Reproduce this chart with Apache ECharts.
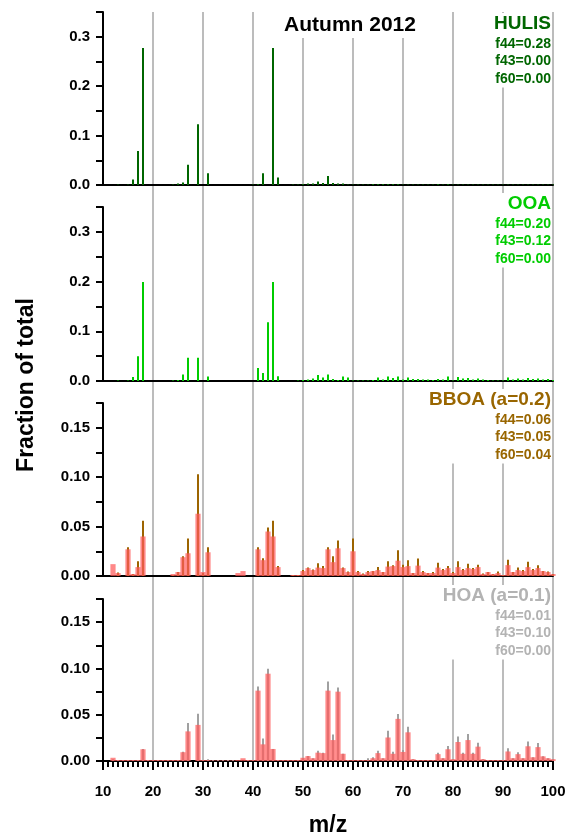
<!DOCTYPE html>
<html>
<head>
<meta charset="utf-8">
<script src="https://cdn.jsdelivr.net/npm/echarts@6/dist/echarts.min.js"></script>
<style>
  html, body { margin: 0; padding: 0; background: #fff; }
  #chart { width: 570px; height: 838px; }
</style>
</head>
<body>
<div id="chart"></div>
<script>
// m/z 12 .. 100
const mz = [];
for (let m = 12; m <= 100; m++) mz.push(m);

const xTicks = [10, 20, 30, 40, 50, 60, 70, 80, 90, 100];

//            12     13     14     15     16     17     18     19     20     21
const hulis = [0,     0.001, 0,     0.001, 0.011, 0.069, 0.277, 0,     0,     0,
//            22     23     24     25     26     27     28     29     30     31
               0,     0,     0.001, 0.003, 0.005, 0.041, 0,     0.123, 0,     0.024,
//            32-41
               0,     0,     0,     0,     0,     0,     0,     0,     0.001, 0.002,
//            42-51
               0.024, 0,     0.277, 0.015, 0,     0,     0.001, 0.001, 0.002, 0.003,
//            52-61
               0.003, 0.007, 0.004, 0.018, 0.004, 0.003, 0.003, 0.001, 0.001, 0.001,
//            62-71
               0.001, 0.001, 0.002, 0.002, 0.002, 0.002, 0.002, 0.002, 0.001, 0.001,
//            72-81
               0.001, 0.001, 0.001, 0.001, 0.001, 0.002, 0.001, 0.002, 0.001, 0.001,
//            82-91
               0.001, 0.001, 0.001, 0.001, 0.001, 0.001, 0.001, 0.001, 0.001, 0.001,
//            92-100
               0.001, 0.001, 0.001, 0.001, 0.001, 0.001, 0.001, 0.001, 0.001];

const ooa = [0,     0.001, 0,     0.001, 0.008, 0.050, 0.199, 0,     0,     0,
             0,     0,     0.001, 0.002, 0.013, 0.047, 0,     0.047, 0,     0.009,
             0,     0,     0,     0,     0,     0,     0,     0,     0,     0.026,
             0.016, 0.118, 0.199, 0.0095, 0,    0,     0,     0.001, 0.002, 0.003,
             0.005, 0.012, 0.007, 0.013, 0.004, 0.002, 0.009, 0.007, 0.001, 0.001,
             0.001, 0.001, 0.002, 0.007, 0.003, 0.009, 0.006, 0.009, 0.003, 0.007,
             0.004, 0.004, 0.003, 0.003, 0.002, 0.004, 0.003, 0.009, 0.001, 0.008,
             0.005, 0.006, 0.003, 0.005, 0.003, 0.002, 0.001, 0.001, 0.001, 0.007,
             0.003, 0.005, 0.003, 0.006, 0.004, 0.005, 0.003, 0.004, 0.002];

// BBOA reference profile (brown) and scaled measured spectrum (pink)
const bboa = [0,     0.0035, 0,    0.029, 0.002, 0.015, 0.056, 0,     0,     0,
              0,     0,     0.001, 0.004, 0.020, 0.038, 0,     0.103, 0.003, 0.029,
              0,     0,     0,     0,     0,     0,     0,     0,     0,     0.029,
              0.018, 0.049, 0.056, 0.010, 0,     0,     0.001, 0.001, 0.006, 0.0085,
              0.0065, 0.013, 0.010, 0.029, 0.020, 0.036, 0.0085, 0.0045, 0.038, 0.005,
              0.0025, 0.005, 0.005, 0.009, 0.004, 0.015, 0.011, 0.026, 0.0115, 0.016,
              0.003, 0.0176, 0.005, 0.003, 0.004, 0.0135, 0.007, 0.010, 0.004, 0.015,
              0.007, 0.0125, 0.008, 0.0115, 0.0025, 0.004, 0.002, 0.0045, 0.001, 0.0165,
              0.004, 0.0085, 0.006, 0.0145, 0.007, 0.011, 0.005, 0.0045, 0.002];

const bboaMeas = [0.012, 0.003, 0,    0.027, 0.002, 0.009, 0.040, 0,     0,     0,
                  0,     0,     0.002, 0.004, 0.019, 0.023, 0,     0.063, 0.004, 0.024,
                  0,     0,     0,     0,     0,     0.003, 0.005, 0,     0,     0.027,
                  0.016, 0.045, 0.040, 0.009, 0,     0,     0.001, 0.001, 0.005, 0.008,
                  0.006, 0.0085, 0.008, 0.027, 0.014, 0.028, 0.008, 0.004, 0.025, 0.004,
                  0.002, 0.004, 0.005, 0.006, 0.004, 0.0095, 0.010, 0.0155, 0.009, 0.010,
                  0.003, 0.0105, 0.004, 0.003, 0.003, 0.0085, 0.006, 0.008, 0.003, 0.009,
                  0.006, 0.008, 0.007, 0.009, 0.002, 0.004, 0.002, 0.003, 0.001, 0.011,
                  0.004, 0.006, 0.005, 0.009, 0.006, 0.008, 0.005, 0.004, 0.002];

// HOA reference profile (grey) and scaled measured spectrum (pink)
const hoa = [0.002, 0.001, 0.001, 0.001, 0.001, 0.001, 0.013, 0.001, 0.001, 0.001,
             0.001, 0.001, 0.001, 0.001, 0.010, 0.041, 0,     0.051, 0.001, 0.002,
             0.001, 0.001, 0.001, 0.001, 0.001, 0,     0,     0.001, 0.001, 0.0805,
             0.0244, 0.0996, 0.013, 0.001, 0.001, 0.001, 0.001, 0.001, 0.003, 0.0055,
             0.003, 0.011, 0.009, 0.086, 0.0286, 0.0795, 0.0078, 0.001, 0.001, 0.001,
             0.001, 0.003, 0.004, 0.011, 0.003, 0.0328, 0.010, 0.0508, 0.012, 0.037,
             0.002, 0.001, 0.001, 0.001, 0.001, 0.009, 0.003, 0.0162, 0.002, 0.0265,
             0.009, 0.0293, 0.009, 0.0198, 0.002, 0.001, 0.001, 0.001, 0.001, 0.0138,
             0.003, 0.0095, 0.003, 0.021, 0.004, 0.0195, 0.005, 0.003, 0.002];

const hoaMeas = [0.0035, 0.001, 0.001, 0.001, 0.001, 0.001, 0.0127, 0.001, 0.001, 0.001,
                 0.001, 0.001, 0.001, 0.001, 0.0095, 0.032, 0,     0.039, 0.001, 0.001,
                 0.0005, 0.0005, 0.0005, 0.0005, 0.0005, 0.001, 0.003, 0.001, 0.001, 0.076,
                 0.018, 0.0943, 0.013, 0.001, 0.001, 0.001, 0.001, 0.001, 0.0035, 0.0053,
                 0.003, 0.009, 0.0085, 0.076, 0.0226, 0.0749, 0.0078, 0.001, 0.001, 0.001,
                 0.001, 0.001, 0.003, 0.0085, 0.003, 0.0254, 0.0078, 0.0455, 0.0098, 0.031,
                 0.002, 0.001, 0.001, 0.001, 0.001, 0.0074, 0.003, 0.0127, 0.002, 0.0205,
                 0.0078, 0.0226, 0.0078, 0.0155, 0.002, 0.001, 0.001, 0.001, 0.001, 0.0103,
                 0.003, 0.0074, 0.003, 0.0159, 0.004, 0.015, 0.005, 0.003, 0.002];

const FONT = '"Liberation Sans", Arial, sans-serif';

const chart = echarts.init(document.getElementById('chart'));

const pairs = (vals) => mz.map((m, i) => [m, vals[i]]);

const grids = [
  { left: 103, width: 450, top: 12, height: 173 },
  { left: 103, width: 450, top: 207, height: 174 },
  { left: 103, width: 450, top: 403, height: 173 },
  { left: 103, width: 450, top: 599, height: 165.5 },
  { left: 103, width: 450, top: 12, height: 752.5 }
];

function panelX(gridIndex, opts) {
  return Object.assign({
    type: 'value',
    gridIndex: gridIndex,
    min: 10,
    max: 100,
    interval: 10,
    axisLine: { show: true, onZero: true, lineStyle: { color: '#000', width: 2 } },
    axisTick: { show: false },
    axisLabel: { show: false },
    splitLine: { show: false }
  }, opts || {});
}

// ticks every `interval`, labels on every second tick
function panelY(gridIndex, max, interval, digits) {
  return {
    type: 'value',
    gridIndex: gridIndex,
    min: 0,
    max: max,
    interval: interval,
    axisLine: { show: true, lineStyle: { color: '#000', width: 2 } },
    axisTick: { show: true, length: 7, lineStyle: { color: '#000', width: 2 } },
    axisLabel: {
      margin: 13,
      color: '#000',
      fontFamily: FONT,
      fontWeight: 'bold',
      fontSize: 15,
      formatter: (v) => (Math.round(v / interval) % 2 === 0 ? v.toFixed(digits) : '')
    },
    splitLine: { show: false }
  };
}

const legendText = (x, y, head, lines, color) => ({
  type: 'text',
  z: 50,
  style: {
    x: x,
    y: y,
    align: 'right',
    verticalAlign: 'top',
    text: '{h|' + head + '}\n' + lines.map((l) => '{f|' + l + '}').join('\n'),
    backgroundColor: '#fff',
    rich: {
      h: { fontFamily: FONT, fontWeight: 'bold', fontSize: 19, lineHeight: 22, fill: color, align: 'right' },
      f: { fontFamily: FONT, fontWeight: 'bold', fontSize: 14, lineHeight: 17.5, fill: color, align: 'right' }
    }
  }
});

const pink = 'rgba(255, 90, 90, 0.72)';

chart.setOption({
  animation: false,
  backgroundColor: '#fff',
  grid: grids,
  xAxis: [
    panelX(0),
    panelX(1),
    panelX(2),
    panelX(2, { show: false }),
    panelX(3, {
      axisTick: { show: true, length: 9, lineStyle: { color: '#000', width: 2 } },
      minorTick: { show: true, splitNumber: 10, length: 6, lineStyle: { color: '#000', width: 2 } },
      axisLabel: {
        show: true,
        margin: 23,
        color: '#000',
        fontFamily: FONT,
        fontWeight: 'bold',
        fontSize: 15,
        formatter: (v) => (xTicks.includes(v) ? String(v) : '')
      },
      name: 'm/z',
      nameLocation: 'middle',
      nameGap: 53,
      nameTextStyle: { color: '#000', fontFamily: FONT, fontWeight: 'bold', fontSize: 23 }
    }),
    panelX(3, { show: false }),
    {
      type: 'value',
      gridIndex: 4,
      min: 10,
      max: 100,
      interval: 10,
      axisLine: { show: false },
      axisTick: { show: false },
      axisLabel: { show: false },
      splitLine: { show: true, showMinLine: false, lineStyle: { color: '#a6a6a6', width: 1.5 } }
    }
  ],
  yAxis: [
    panelY(0, 0.35, 0.05, 1),
    panelY(1, 0.35, 0.05, 1),
    panelY(2, 0.175, 0.025, 2),
    panelY(3, 0.175, 0.025, 2),
    { type: 'value', gridIndex: 4, min: 0, max: 1, show: false }
  ],
  series: [
    { type: 'bar', name: 'HULIS', xAxisIndex: 0, yAxisIndex: 0, barWidth: 2,
      itemStyle: { color: '#006600' }, data: pairs(hulis) },
    { type: 'bar', name: 'OOA', xAxisIndex: 1, yAxisIndex: 1, barWidth: 2,
      itemStyle: { color: '#00cc00' }, data: pairs(ooa) },
    { type: 'bar', name: 'BBOA', xAxisIndex: 2, yAxisIndex: 2, barWidth: 2,
      itemStyle: { color: '#9c6400' }, data: pairs(bboa) },
    { type: 'bar', name: 'BBOA meas', xAxisIndex: 3, yAxisIndex: 2, barWidth: 5.2,
      itemStyle: { color: pink }, data: pairs(bboaMeas) },
    { type: 'bar', name: 'HOA', xAxisIndex: 4, yAxisIndex: 3, barWidth: 2,
      itemStyle: { color: '#a0a0a0' }, data: pairs(hoa) },
    { type: 'bar', name: 'HOA meas', xAxisIndex: 5, yAxisIndex: 3, barWidth: 5.2,
      itemStyle: { color: pink }, data: pairs(hoaMeas) }
  ],
  graphic: [
    {
      type: 'text',
      z: 50,
      style: {
        x: 350, y: 12, align: 'center', verticalAlign: 'top',
        text: 'Autumn 2012',
        fontFamily: FONT, fontWeight: 'bold', fontSize: 21, lineHeight: 26,
        fill: '#000', backgroundColor: '#fff'
      }
    },
    legendText(551, 13, 'HULIS', ['f44=0.28', 'f43=0.00', 'f60=0.00'], '#006600'),
    legendText(551, 193, 'OOA', ['f44=0.20', 'f43=0.12', 'f60=0.00'], '#00cc00'),
    legendText(551, 389, 'BBOA (a=0.2)', ['f44=0.06', 'f43=0.05', 'f60=0.04'], '#996600'),
    legendText(551, 585, 'HOA (a=0.1)', ['f44=0.01', 'f43=0.10', 'f60=0.00'], '#b3b3b3'),
    {
      type: 'text',
      z: 50,
      rotation: Math.PI / 2,
      x: 27, y: 385,
      style: {
        x: 0, y: 0, align: 'center', verticalAlign: 'middle',
        text: 'Fraction of total',
        fontFamily: FONT, fontWeight: 'bold', fontSize: 23, fill: '#000'
      }
    }
  ]
});
</script>
</body>
</html>
